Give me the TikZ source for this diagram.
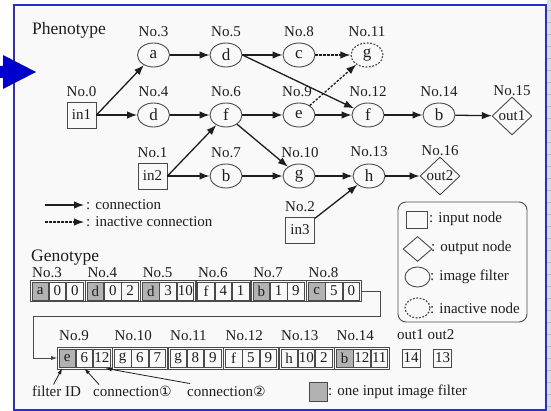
\documentclass[tikz,border=0pt]{standalone}
\usepackage{fontspec}
\setmainfont{Liberation Serif}
\newfontfamily\dejavu{DejaVu Sans}
\usetikzlibrary{shapes.geometric,arrows.meta,positioning,calc}
\newcommand\fsz[1]{\fontsize{#1}{#1}\selectfont}
\definecolor{frameblue}{HTML}{2B2BD6}
\definecolor{arrowblue}{HTML}{0000CC}
\definecolor{ink}{HTML}{1E1E1E}
\definecolor{edgec}{HTML}{4A4A4A}
\definecolor{shade}{HTML}{B2B2B2}
\definecolor{bgc}{HTML}{F9F9F9}
\definecolor{stripc}{HTML}{D6DCEA}
\tikzset{
  filt/.style={ellipse, draw=edgec, line width=0.9pt, minimum width=32pt, minimum height=24pt, inner sep=0pt, font=\fsz{17}, text=ink},
  inact/.style={filt, dash pattern=on 1.8pt off 1.6pt, line width=1.2pt},
  inbox/.style={rectangle, draw=edgec, line width=0.9pt, minimum width=29pt, minimum height=26pt, inner sep=0pt, font=\fsz{15}, text=ink},
  outd/.style={diamond, draw=edgec, line width=0.9pt, minimum width=40pt, minimum height=38pt, inner sep=0pt, font=\fsz{15}, text=ink},
  nolbl/.style={font=\fsz{15}, text=ink, inner sep=0pt},
  ttl/.style={font=\fsz{17.5}, text=ink, inner sep=0pt},
  lt/.style={font=\fsz{15}, text=ink, inner sep=0pt, anchor=west},
  conn/.style={-{Latex[length=10pt,width=7.5pt]}, line width=1.3pt, draw=ink},
  iconn/.style={conn, dash pattern=on 2.5pt off 1.5pt},
  gc/.style={rectangle, draw=edgec, line width=0.8pt, minimum width=16.5pt, minimum height=18pt, inner sep=0.3pt, font=\fsz{15}, text=ink},
  grp/.style={draw=edgec, line width=0.8pt},
  route/.style={draw=edgec, line width=0.8pt, -{Latex[length=6pt,width=4.5pt]}},
  ptr/.style={draw=ink, line width=0.8pt, -{Latex[length=6pt,width=4pt]}},
}
\newcommand\gene[7]{%
  \node[gc, fill=#7, anchor=west] (#1a) at (#2+1.5,#3) {#4};
  \node[gc, right=0pt of #1a] (#1b) {#5};
  \node[gc, right=0pt of #1b] (#1c) {#6};
  \draw[grp] ($(#1a.north west)+(-1.5,-1.5)$) rectangle ($(#1c.south east)+(1.5,1.5)$);
}
\begin{document}
\begin{tikzpicture}[x=1pt,y=-1pt]
\useasboundingbox (0,0) rectangle (551,411);
% background and frame
\fill[white] (0,0) rectangle (551,411);
\fill[stripc] (547,0) rectangle (551,411);
\foreach \yy in {10,22,...,410} \draw[gray!60, line width=0.4pt] (547,\yy) -- (551,\yy);
\fill[bgc] (14,5) rectangle (546,410);
\draw[frameblue, line width=2pt] (14,5) rectangle (546,410);

% titles
\node[ttl] (ptitle) at (69,30) {Phenotype};
\node[ttl, anchor=west] (gtitle) at (31,258) {Genotype};

% phenotype nodes
\node[inbox] (n0) at (81.5,115) {in1};
\node[inbox] (n1) at (152.5,176) {in2};
\node[inbox] (n2) at (300,230) {in3};
\node[filt] (n3) at (153.5,55) {a};
\node[filt] (n4) at (153.5,115) {d};
\node[filt] (n5) at (226,55) {d};
\node[filt] (n6) at (226,115) {f};
\node[filt] (n7) at (226,176) {b};
\node[filt] (n8) at (299,55) {c};
\node[filt] (n9) at (299,115) {e};
\node[filt] (n10) at (299,176) {g};
\node[inact] (n11) at (367,55) {g};
\node[filt] (n12) at (368,115) {f};
\node[filt] (n13) at (369,176) {h};
\node[filt] (n14) at (439,115) {b};
\node[outd] (n15) at (512,116) {out1};
\node[outd] (n16) at (440,176) {out2};

% number labels
\node[nolbl] (l0) at (81.5,92) {No.0};
\node[nolbl] (l1) at (152.5,153) {No.1};
\node[nolbl] (l2) at (300,207) {No.2};
\node[nolbl] (l3) at (153.5,32) {No.3};
\node[nolbl] (l4) at (153.5,92) {No.4};
\node[nolbl] (l5) at (226,32) {No.5};
\node[nolbl] (l6) at (226,92) {No.6};
\node[nolbl] (l7) at (226,153) {No.7};
\node[nolbl] (l8) at (299,32) {No.8};
\node[nolbl] (l9) at (297,92) {No.9};
\node[nolbl] (l10) at (300,153) {No.10};
\node[nolbl] (l11) at (367,32) {No.11};
\node[nolbl] (l12) at (368,92) {No.12};
\node[nolbl] (l13) at (369,152) {No.13};
\node[nolbl] (l14) at (439,92) {No.14};
\node[nolbl] (l15) at (512,91) {No.15};
\node[nolbl] (l16) at (440,151) {No.16};

% connections
\draw[conn] (n0.east) -- (n3);
\draw[conn] (n0) -- (n4);
\draw[conn] (n3) -- (n5);
\draw[conn] (n5) -- (n8);
\draw[conn] (n5.east) -- (n12);
\draw[iconn] (n8) -- (n11);
\draw[iconn] (n9) -- (n11);
\draw[conn] (n4) -- (n6);
\draw[conn] (n6) -- (n9);
\draw[conn] (n6) -- (n10);
\draw[conn] (n9) -- (n12);
\draw[conn] (n12) -- (n14);
\draw[conn] (n14) -- (n15);
\draw[conn] (n1.east) -- (n6);
\draw[conn] (n1) -- (n7);
\draw[conn] (n7) -- (n10);
\draw[conn] (n10) -- (n13);
\draw[conn] (n2) -- (n13);
\draw[conn] (n13) -- (n16);

% line legend
\coordinate (la1) at (45,205);
\coordinate (la2) at (84,205);
\coordinate (lb1) at (45,222);
\coordinate (lb2) at (84,222);
\draw[conn] (la1) -- (la2);
\draw[iconn] (lb1) -- (lb2);
\node[lt] (lat) at (86,205) {: connection};
\node[lt] (lbt) at (86,222) {: inactive connection};

% node legend
\node[draw=edgec, line width=0.9pt, rounded corners=8pt, minimum width=129pt, minimum height=120pt, inner sep=0pt] (legbox) at (462.5,262) {};
\node[draw=edgec, line width=0.9pt, minimum width=21pt, minimum height=17pt, inner sep=0pt] (lsq) at (416.5,220) {};
\node[lt] (lsqt) at (429,219) {: input node};
\node[diamond, draw=edgec, line width=0.9pt, minimum width=29pt, minimum height=25pt, inner sep=0pt] (lsd) at (417.5,249) {};
\node[lt] (lsdt) at (431,248) {: output node};
\node[ellipse, draw=edgec, line width=0.9pt, minimum width=25pt, minimum height=20pt, inner sep=0pt] (lsc) at (417.5,277) {};
\node[lt] (lsct) at (430,277) {: image filter};
\node[ellipse, draw=edgec, dash pattern=on 1.8pt off 1.6pt, line width=1.2pt, minimum width=25pt, minimum height=20pt, inner sep=0pt] (lsi) at (417.5,308) {};
\node[lt] (lsit) at (430,308) {: inactive node};

% genotype row 1
\gene{g3}{30}{291}{a}{0}{0}{shade}
\gene{g4}{85.3}{291}{d}{0}{2}{shade}
\gene{g5}{140.6}{291}{d}{3}{10}{shade}
\gene{g6}{195.9}{291}{f}{4}{1}{none}
\gene{g7}{251.2}{291}{b}{1}{9}{shade}
\gene{g8}{306.5}{291}{c}{5}{0}{shade}
\node[lt] (k3) at (32,273) {No.3};
\node[lt] (k4) at (87.3,273) {No.4};
\node[lt] (k5) at (142.6,273) {No.5};
\node[lt] (k6) at (197.9,273) {No.6};
\node[lt] (k7) at (253.2,273) {No.7};
\node[lt] (k8) at (308.5,273) {No.8};

% genotype row 2
\gene{g9}{57}{358}{e}{6}{12}{shade}
\gene{g10}{112.5}{358}{g}{6}{7}{none}
\gene{g11}{168}{358}{g}{8}{9}{none}
\gene{g12}{223.5}{358}{f}{5}{9}{none}
\gene{g13}{279}{358}{h}{10}{2}{none}
\gene{g14}{334.5}{358}{b}{12}{11}{shade}
\node[gc, minimum width=18pt] (o1) at (411,358) {14};
\node[gc, minimum width=18pt] (o2) at (442.5,358) {13};
\node[lt] (k9) at (59,336) {No.9};
\node[lt] (k10) at (114.5,336) {No.10};
\node[lt] (k11) at (170,336) {No.11};
\node[lt] (k12) at (225.5,336) {No.12};
\node[lt] (k13) at (281,336) {No.13};
\node[lt] (k14) at (336.5,336) {No.14};
\node[nolbl] (ko1) at (410.5,335) {out1};
\node[nolbl] (ko2) at (441,335) {out2};

% wrap-around connector
\draw[route] ($(g8c.east)+(1.5,0)$) -- (380,291) |- (33,316) |- ($(g9a.west)+(-1.5,0)$);

% annotations
\node[lt] (fid) at (32,391) {filter ID};
\node[lt] (c1) at (93,391) {connection{\dejavu\fsz{14}①}};
\node[lt] (c2) at (187,391) {connection{\dejavu\fsz{14}②}};
\draw[ptr] ($(fid.north)+(-3,-1)$) -- ($(g9a.south)+(-5,1)$);
\draw[ptr] ($(c1.north west)+(6,-1)$) -- ($(g9b.south)+(0,1)$);
\draw[ptr] ($(c2.north west)+(3,-2)$) -- ($(g9c.south)+(4,1)$);

\node[gc, fill=shade, minimum width=18pt, minimum height=19pt] (lgs) at (318,392) {};
\node[lt] (lgt) at (328,392) {: one input image filter};

% blue arrow
\fill[arrowblue] (0,66) -- (3,66) -- (3,55) -- (36,72) -- (3,89) -- (3,78) -- (0,78) -- cycle;
\end{tikzpicture}
\end{document}
